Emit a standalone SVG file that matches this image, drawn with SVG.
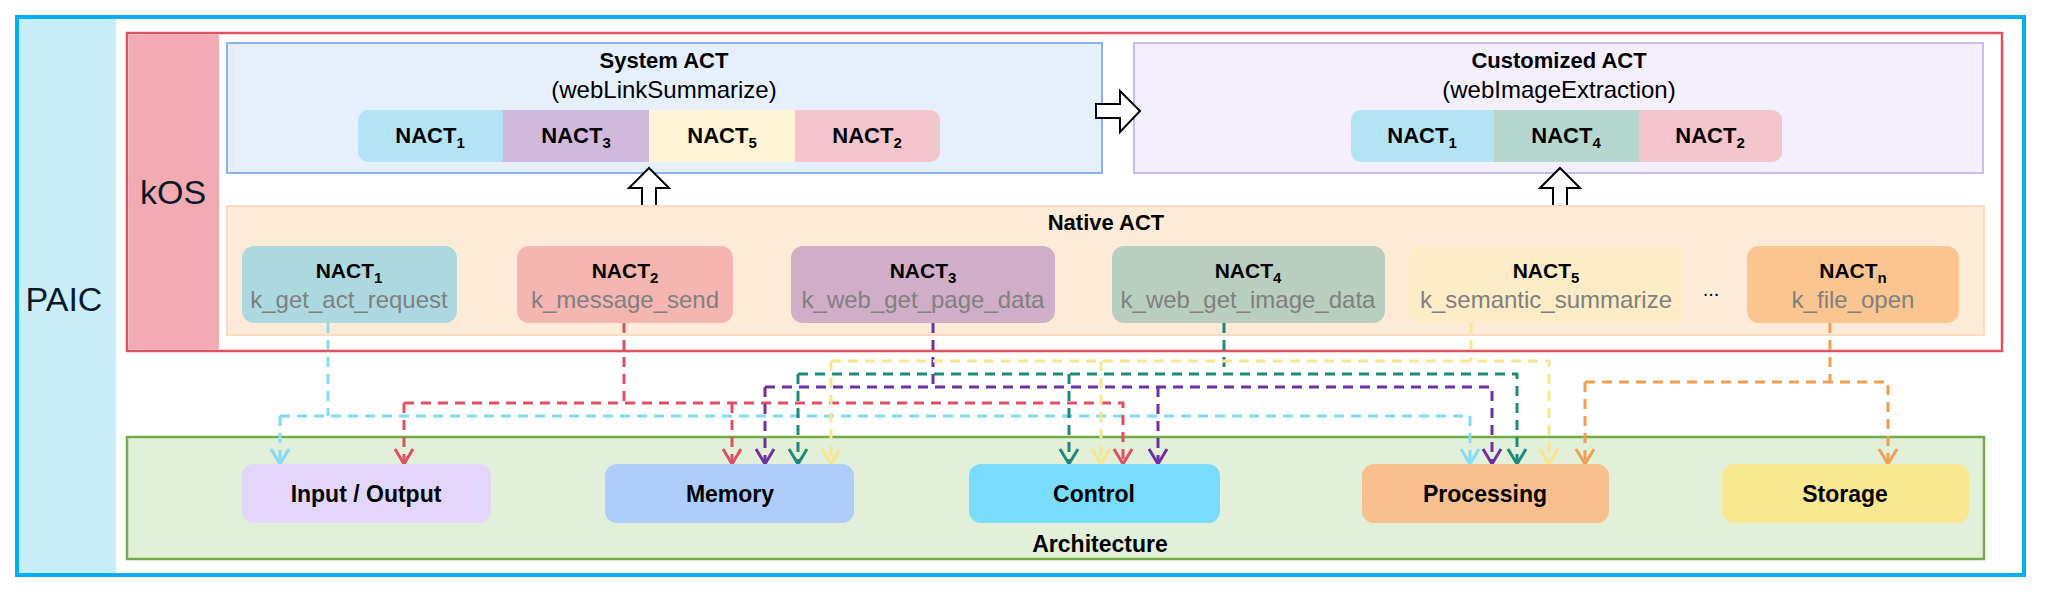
<svg xmlns="http://www.w3.org/2000/svg" width="2047" height="605" viewBox="0 0 2047 605">
<style>
text{font-family:"Liberation Sans",Arial,sans-serif;fill:#000}
.big{font-size:34px;fill:#0a1a2a}
.ttl{font-size:22px;font-weight:bold}
.par{font-size:24px}
.bar{font-size:22px;font-weight:bold}
.nt{font-size:21px;font-weight:bold}
.sub{font-size:15px}
.fn{font-size:24px;fill:#808080}
.al{font-size:23px;font-weight:bold}
.cn{fill:none;stroke-width:3;stroke-dasharray:10 7}
.hollow{fill:#fff;stroke:#000;stroke-width:2;stroke-linejoin:miter}
</style>
<defs>
<marker id="mLb" viewBox="-17 -11 19 22" refX="0" refY="0" markerWidth="19" markerHeight="22" markerUnits="userSpaceOnUse" orient="auto"><path d="M-15,-9 L0,0 L-15,9" fill="none" stroke="#82dcf7" stroke-width="3"/></marker>
<marker id="mRd" viewBox="-17 -11 19 22" refX="0" refY="0" markerWidth="19" markerHeight="22" markerUnits="userSpaceOnUse" orient="auto"><path d="M-15,-9 L0,0 L-15,9" fill="none" stroke="#e05060" stroke-width="3"/></marker>
<marker id="mPu" viewBox="-17 -11 19 22" refX="0" refY="0" markerWidth="19" markerHeight="22" markerUnits="userSpaceOnUse" orient="auto"><path d="M-15,-9 L0,0 L-15,9" fill="none" stroke="#7030a0" stroke-width="3"/></marker>
<marker id="mTe" viewBox="-17 -11 19 22" refX="0" refY="0" markerWidth="19" markerHeight="22" markerUnits="userSpaceOnUse" orient="auto"><path d="M-15,-9 L0,0 L-15,9" fill="none" stroke="#1f8a78" stroke-width="3"/></marker>
<marker id="mYe" viewBox="-17 -11 19 22" refX="0" refY="0" markerWidth="19" markerHeight="22" markerUnits="userSpaceOnUse" orient="auto"><path d="M-15,-9 L0,0 L-15,9" fill="none" stroke="#f7e68c" stroke-width="3"/></marker>
<marker id="mOr" viewBox="-17 -11 19 22" refX="0" refY="0" markerWidth="19" markerHeight="22" markerUnits="userSpaceOnUse" orient="auto"><path d="M-15,-9 L0,0 L-15,9" fill="none" stroke="#f0a050" stroke-width="3"/></marker>
</defs>

<rect width="2047" height="605" fill="#fff"/>

<g id="paic">
<rect x="17" y="17" width="2007" height="558" fill="#fff" stroke="#00b0f0" stroke-width="4"/>
<rect x="19" y="19" width="97" height="554" fill="#c9eefa"/>
<text class="big" x="64" y="311" text-anchor="middle">PAIC</text>
</g>

<g id="kos">
<rect x="127" y="33" width="1875" height="318" fill="#fff" stroke="#e0525f" stroke-width="2.5"/>
<rect x="128.5" y="34.5" width="90.5" height="315" fill="#f2abb3"/>
<text class="big" x="173" y="204" text-anchor="middle">kOS</text>
</g>

<g id="system-act">
<rect x="227" y="43" width="875" height="130" fill="#e6f0fd" stroke="#8ab4f0" stroke-width="2"/>
<text class="ttl" x="664" y="68" text-anchor="middle">System ACT</text>
<text class="par" x="664" y="98" text-anchor="middle">(webLinkSummarize)</text>
<rect x="358" y="110" width="160" height="52" rx="10" fill="#b3e3f5"/>
<rect x="780" y="110" width="160" height="52" rx="10" fill="#f4c5cc"/>
<rect x="503" y="110" width="146" height="52" fill="#d1b9dd"/>
<rect x="649" y="110" width="146" height="52" fill="#fdf5d5"/>
<text class="bar" x="430" y="143" text-anchor="middle">NACT<tspan class="sub" dy="5">1</tspan></text>
<text class="bar" x="576" y="143" text-anchor="middle">NACT<tspan class="sub" dy="5">3</tspan></text>
<text class="bar" x="722" y="143" text-anchor="middle">NACT<tspan class="sub" dy="5">5</tspan></text>
<text class="bar" x="867" y="143" text-anchor="middle">NACT<tspan class="sub" dy="5">2</tspan></text>
</g>

<g id="customized-act">
<rect x="1134" y="43" width="849" height="130" fill="#f3effc" stroke="#cdb9f3" stroke-width="2"/>
<text class="ttl" x="1559" y="68" text-anchor="middle">Customized ACT</text>
<text class="par" x="1559" y="98" text-anchor="middle">(webImageExtraction)</text>
<rect x="1351" y="110" width="160" height="52" rx="10" fill="#b3e3f5"/>
<rect x="1622" y="110" width="160" height="52" rx="10" fill="#f4c5cc"/>
<rect x="1494" y="110" width="145" height="52" fill="#b6d7cf"/>
<text class="bar" x="1422" y="143" text-anchor="middle">NACT<tspan class="sub" dy="5">1</tspan></text>
<text class="bar" x="1566" y="143" text-anchor="middle">NACT<tspan class="sub" dy="5">4</tspan></text>
<text class="bar" x="1710" y="143" text-anchor="middle">NACT<tspan class="sub" dy="5">2</tspan></text>
</g>

<g id="flow-arrows">
<polygon class="hollow" points="1096,104 1120,104 1120,91 1140,111 1120,132 1120,118 1096,118"/>
<polygon class="hollow" points="649,168 669,188 656,188 656,212 642,212 642,188 629,188"/>
<polygon class="hollow" points="1560,168 1580,188 1567,188 1567,212 1553,212 1553,188 1540,188"/>
</g>

<g id="native-act">
<rect x="227" y="206" width="1757" height="129" fill="#fdebd7" stroke="#fcdcc0" stroke-width="2"/>
<text class="ttl" x="1106" y="230" text-anchor="middle">Native ACT</text>
<text x="1711" y="296" font-size="20" text-anchor="middle">...</text>
</g>

<g id="architecture">
<rect x="127" y="437" width="1857" height="122" fill="#e2efd9" stroke="#70ad47" stroke-width="2.5"/>
<text class="al" x="1100" y="552" text-anchor="middle">Architecture</text>
</g>

<g id="connectors">
<path class="cn" stroke="#82dcf7" d="M328,323 V416"/>
<path class="cn" stroke="#82dcf7" marker-end="url(#mLb)" d="M280,416 H1470 V464"/>
<path class="cn" stroke="#82dcf7" marker-end="url(#mLb)" d="M280,416 V464"/>

<path class="cn" stroke="#e05060" d="M624,323 V403"/>
<path class="cn" stroke="#e05060" marker-end="url(#mRd)" d="M404,403 H1123 V464"/>
<path class="cn" stroke="#e05060" marker-end="url(#mRd)" d="M404,403 V464"/>
<path class="cn" stroke="#e05060" marker-end="url(#mRd)" d="M732,403 V464"/>

<path class="cn" stroke="#7030a0" d="M933,323 V387"/>
<path class="cn" stroke="#7030a0" marker-end="url(#mPu)" d="M765,387 H1492 V464"/>
<path class="cn" stroke="#7030a0" marker-end="url(#mPu)" d="M765,387 V464"/>
<path class="cn" stroke="#7030a0" marker-end="url(#mPu)" d="M1158,387 V464"/>

<path class="cn" stroke="#1f8a78" d="M1224,323 V374"/>
<path class="cn" stroke="#1f8a78" marker-end="url(#mTe)" d="M798,374 H1517 V464"/>
<path class="cn" stroke="#1f8a78" marker-end="url(#mTe)" d="M798,374 V464"/>
<path class="cn" stroke="#1f8a78" marker-end="url(#mTe)" d="M1069,374 V464"/>

<path class="cn" stroke="#f7e68c" d="M1471,323 V361"/>
<path class="cn" stroke="#f7e68c" marker-end="url(#mYe)" d="M831,361 H1549 V464"/>
<path class="cn" stroke="#f7e68c" marker-end="url(#mYe)" d="M831,361 V464"/>
<path class="cn" stroke="#f7e68c" marker-end="url(#mYe)" d="M1101,361 V464"/>

<path class="cn" stroke="#f0a050" d="M1830,323 V382"/>
<path class="cn" stroke="#f0a050" marker-end="url(#mOr)" d="M1585,382 H1888 V464"/>
<path class="cn" stroke="#f0a050" marker-end="url(#mOr)" d="M1585,382 V464"/>
</g>

<g id="nact1">
<rect x="242" y="246" width="215" height="77" rx="12" fill="#acd8e0"/>
<text class="nt" x="349" y="278" text-anchor="middle">NACT<tspan class="sub" dy="5">1</tspan></text>
<text class="fn" x="349" y="308" text-anchor="middle">k_get_act_request</text>
</g>
<g id="nact2">
<rect x="517" y="246" width="216" height="77" rx="12" fill="#f5b6b1"/>
<text class="nt" x="625" y="278" text-anchor="middle">NACT<tspan class="sub" dy="5">2</tspan></text>
<text class="fn" x="625" y="308" text-anchor="middle">k_message_send</text>
</g>
<g id="nact3">
<rect x="791" y="246" width="264" height="77" rx="12" fill="#d0aec8"/>
<text class="nt" x="923" y="278" text-anchor="middle">NACT<tspan class="sub" dy="5">3</tspan></text>
<text class="fn" x="923" y="308" text-anchor="middle">k_web_get_page_data</text>
</g>
<g id="nact4">
<rect x="1112" y="246" width="273" height="77" rx="12" fill="#b8cfbf"/>
<text class="nt" x="1248" y="278" text-anchor="middle">NACT<tspan class="sub" dy="5">4</tspan></text>
<text class="fn" x="1248" y="308" text-anchor="middle">k_web_get_image_data</text>
</g>
<g id="nact5">
<rect x="1408" y="246" width="276" height="77" rx="12" fill="#fdecc6"/>
<text class="nt" x="1546" y="278" text-anchor="middle">NACT<tspan class="sub" dy="5">5</tspan></text>
<text class="fn" x="1546" y="308" text-anchor="middle">k_semantic_summarize</text>
</g>
<g id="nactn">
<rect x="1747" y="246" width="212" height="77" rx="12" fill="#fbc592"/>
<text class="nt" x="1853" y="278" text-anchor="middle">NACT<tspan class="sub" dy="5">n</tspan></text>
<text class="fn" x="1853" y="308" text-anchor="middle">k_file_open</text>
</g>

<g id="input-output">
<rect x="242" y="464" width="249" height="59" rx="12" fill="#e2d7fb"/>
<text class="al" x="366" y="502" text-anchor="middle">Input / Output</text>
</g>
<g id="memory">
<rect x="605" y="464" width="249" height="59" rx="12" fill="#afcdfb"/>
<text class="al" x="730" y="502" text-anchor="middle">Memory</text>
</g>
<g id="control">
<rect x="969" y="464" width="251" height="59" rx="12" fill="#79dcfd"/>
<text class="al" x="1094" y="502" text-anchor="middle">Control</text>
</g>
<g id="processing">
<rect x="1362" y="464" width="247" height="59" rx="12" fill="#f8c08f"/>
<text class="al" x="1485" y="502" text-anchor="middle">Processing</text>
</g>
<g id="storage">
<rect x="1722" y="464" width="247" height="59" rx="12" fill="#f8e891"/>
<text class="al" x="1845" y="502" text-anchor="middle">Storage</text>
</g>
</svg>
